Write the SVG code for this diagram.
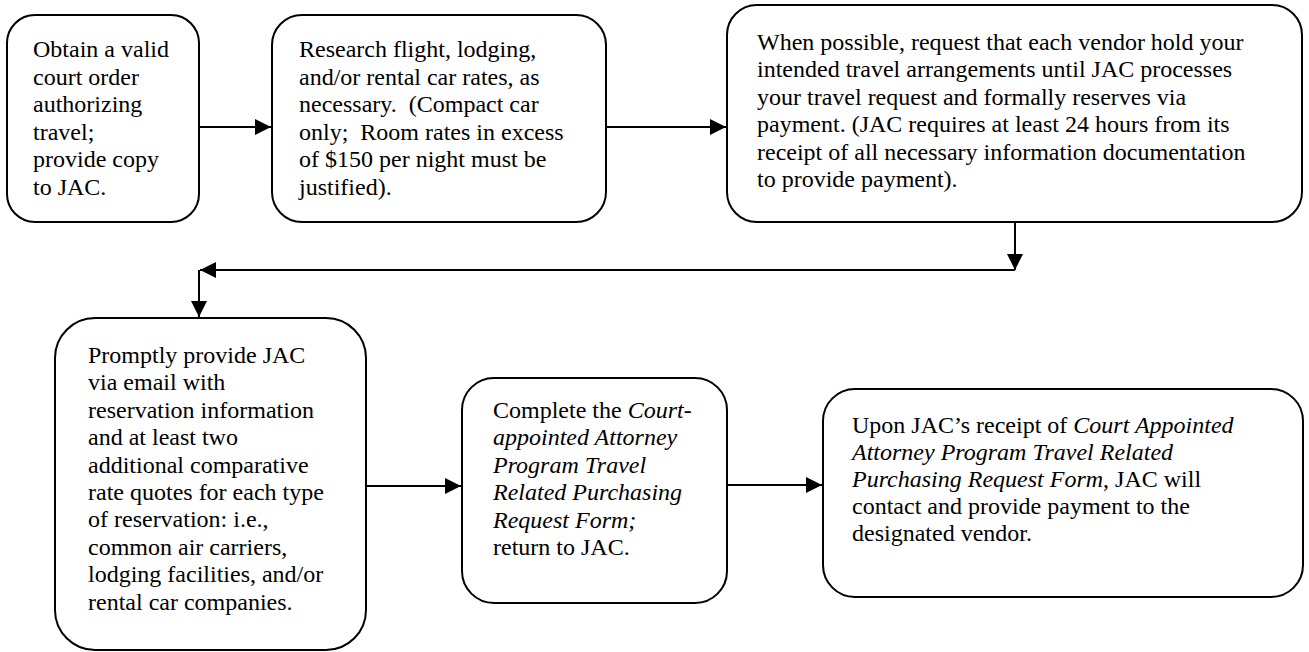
<svg xmlns="http://www.w3.org/2000/svg" width="1309" height="652" viewBox="0 0 1309 652">
<defs>
<style>
.box{fill:#fff;stroke:#000;stroke-width:2}
.t{font-family:"Liberation Serif","Times New Roman",serif;font-size:24px;fill:#000}
.i{font-style:italic}
.c{fill:none;stroke:#000;stroke-width:2}
</style>
<marker id="ah" markerWidth="8" markerHeight="8" refX="8" refY="4" orient="auto" markerUnits="strokeWidth">
<path d="M0,0 L8,4 L0,8 Z" fill="#000"/>
</marker>
</defs>
<rect width="1309" height="652" fill="#fff"/>
<g id="connectors">
<line class="c" x1="199" y1="127" x2="271" y2="127" marker-end="url(#ah)"/>
<line class="c" x1="606" y1="127" x2="726" y2="127" marker-end="url(#ah)"/>
<line class="c" x1="1015" y1="222" x2="1015" y2="270" marker-end="url(#ah)"/>
<line class="c" x1="1015" y1="270" x2="200" y2="270" marker-end="url(#ah)"/>
<line class="c" x1="199" y1="270" x2="199" y2="317" marker-end="url(#ah)"/>
<line class="c" x1="367" y1="486" x2="461" y2="486" marker-end="url(#ah)"/>
<line class="c" x1="727" y1="485" x2="822" y2="485" marker-end="url(#ah)"/>
</g>
<g id="node1">
<rect class="box" x="7" y="15" width="192" height="207" rx="28"/>
<text class="t" x="33" y="57"><tspan x="33">Obtain a valid</tspan><tspan x="33" dy="27.5">court order</tspan><tspan x="33" dy="27.5">authorizing</tspan><tspan x="33" dy="27.5">travel;</tspan><tspan x="33" dy="27.5">provide copy</tspan><tspan x="33" dy="27.5">to JAC.</tspan></text>
</g>
<g id="node2">
<rect class="box" x="272" y="15" width="334" height="207" rx="30"/>
<text class="t" x="299" y="57"><tspan x="299">Research flight, lodging,</tspan><tspan x="299" dy="27.5">and/or rental car rates, as</tspan><tspan x="299" dy="27.5">necessary.&#160; (Compact car</tspan><tspan x="299" dy="27.5">only;&#160; Room rates in excess</tspan><tspan x="299" dy="27.5">of $150 per night must be</tspan><tspan x="299" dy="27.5">justified).</tspan></text>
</g>
<g id="node3">
<rect class="box" x="727" y="5" width="575" height="217" rx="30"/>
<text class="t" x="757" y="49.5"><tspan x="757">When possible, request that each vendor hold your</tspan><tspan x="757" dy="27.5">intended travel arrangements until JAC processes</tspan><tspan x="757" dy="27.5">your travel request and formally reserves via</tspan><tspan x="757" dy="27.5">payment. (JAC requires at least 24 hours from its</tspan><tspan x="757" dy="27.5">receipt of all necessary information documentation</tspan><tspan x="757" dy="27.5">to provide payment).</tspan></text>
</g>
<g id="node4">
<rect class="box" x="55" y="318" width="311" height="332" rx="40"/>
<text class="t" x="88" y="363"><tspan x="88">Promptly provide JAC</tspan><tspan x="88" dy="27.4">via email with</tspan><tspan x="88" dy="27.4">reservation information</tspan><tspan x="88" dy="27.4">and at least two</tspan><tspan x="88" dy="27.4">additional comparative</tspan><tspan x="88" dy="27.4">rate quotes for each type</tspan><tspan x="88" dy="27.4">of reservation: i.e.,</tspan><tspan x="88" dy="27.4">common air carriers,</tspan><tspan x="88" dy="27.4">lodging facilities, and/or</tspan><tspan x="88" dy="27.4">rental car companies.</tspan></text>
</g>
<g id="node5">
<rect class="box" x="462" y="378" width="265" height="225" rx="32"/>
<text class="t" x="493" y="418"><tspan x="493">Complete the <tspan class="i">Court-</tspan></tspan><tspan class="i" x="493" dy="27.4">appointed Attorney</tspan><tspan class="i" x="493" dy="27.4">Program Travel</tspan><tspan class="i" x="493" dy="27.4">Related Purchasing</tspan><tspan class="i" x="493" dy="27.4">Request Form;</tspan><tspan x="493" dy="27.4">return to JAC.</tspan></text>
</g>
<g id="node6">
<rect class="box" x="823" y="389" width="480" height="208" rx="32"/>
<text class="t" x="852" y="433"><tspan x="852">Upon JAC’s receipt of <tspan class="i">Court Appointed</tspan></tspan><tspan class="i" x="852" dy="27">Attorney Program Travel Related</tspan><tspan x="852" dy="27"><tspan class="i">Purchasing Request Form</tspan>, JAC will</tspan><tspan x="852" dy="27">contact and provide payment to the</tspan><tspan x="852" dy="27">designated vendor.</tspan></text>
</g>
</svg>
